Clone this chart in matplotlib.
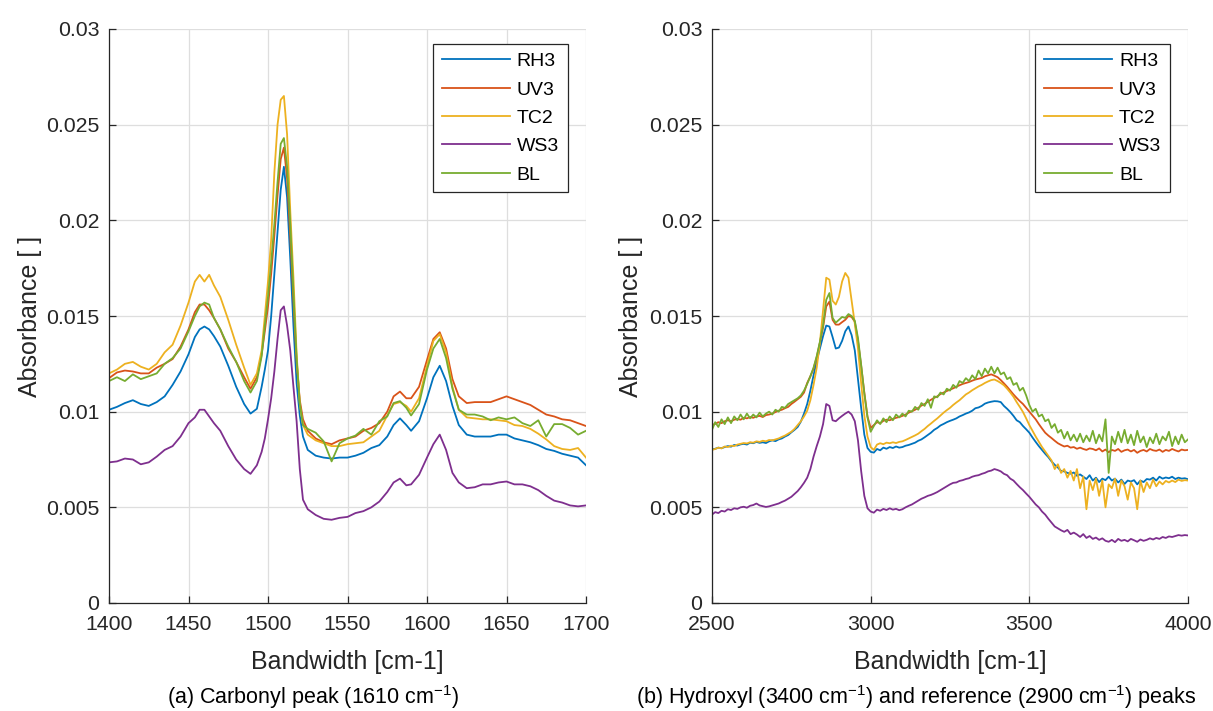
import numpy as np
import matplotlib
matplotlib.use("Agg")
import matplotlib.pyplot as plt

# =========================
# DATOS (a) - pico carbonilo, absorbancia x 1e-4
# =========================
wn_a = [1400, 1405, 1410, 1415, 1420, 1425, 1430, 1435, 1440, 1445, 1450, 1454, 1457, 1460,
        1463, 1466, 1470, 1475, 1480, 1485, 1489, 1493, 1496,
        1498, 1500, 1502, 1504, 1506, 1508, 1510, 1512, 1514, 1516, 1518, 1520, 1522,
        1525, 1530, 1535, 1540, 1545, 1550, 1555, 1560, 1565, 1570, 1575, 1579, 1583, 1587,
        1590, 1595, 1600, 1604, 1608, 1612, 1616, 1620, 1625, 1630, 1635, 1640, 1645, 1650,
        1655, 1660, 1665, 1670, 1675, 1680, 1685, 1690, 1695, 1700]

rh3_a = [101, 102.5, 104.5, 106, 104, 103, 105, 108, 114, 121, 130, 139, 143, 144.5,
         143, 139.5, 134, 124, 113, 104, 99, 101.5, 113,
         122, 132, 150, 172, 194, 216, 228, 212, 180, 145, 115, 98, 87,
         80, 77, 76, 75.5, 76, 76, 77, 78.5, 81, 82.5, 87, 93, 96.5, 93,
         90, 95, 107, 118, 124, 116, 103, 93, 88, 87, 87, 87, 88, 88,
         86, 85, 84, 82.5, 80.5, 79.5, 78, 77, 76, 72]

uv3_a = [117.5, 120.5, 121.5, 121, 120, 120, 123, 125, 127.5, 134, 143, 152, 156, 156,
         153, 149, 143, 133, 126, 118, 112, 118, 130,
         142, 155, 172, 192, 213, 232, 238, 222, 192, 158, 126, 106, 96,
         90, 86, 84, 83, 85, 86, 87, 90, 91.5, 94, 100, 108, 110.5, 107,
         107, 113, 127, 138, 141.5, 133, 117, 108, 104.5, 105, 105, 105, 106.5, 108,
         106.5, 105, 103.5, 101, 98.5, 97.5, 96, 95.5, 94, 92.5]

tc2_a = [120, 122, 125, 126, 123.5, 122, 125, 131, 135, 145, 157, 168, 171.5, 168,
         171.5, 166, 160, 148, 135, 123, 114, 120, 132,
         150, 168, 190, 225, 250, 263, 265, 245, 205, 170, 130, 104, 93,
         88, 85, 83.5, 82, 82, 83, 83.5, 84, 87, 90, 98, 104, 105, 103,
         100, 107, 124, 137, 140.5, 131, 113, 101, 97, 96.5, 96, 96, 95.5, 95,
         93, 92.5, 91, 88.5, 85.5, 82, 80.5, 80, 81, 76]

ws3_a = [73.5, 74, 75.5, 75, 72.5, 73.5, 76.5, 80, 82, 87, 94, 97, 101, 101,
         97.5, 94, 90, 82, 75, 70, 67.5, 72, 79,
         86, 96, 107, 121, 138, 153, 155, 145, 132, 113, 95, 70, 54,
         49, 46, 44, 43.5, 44.5, 45, 47, 48, 50, 53, 58, 63, 65, 61.5,
         62, 67, 76, 83, 88, 80, 68, 63, 60, 60.5, 62, 62, 63, 63.5,
         62, 62, 61, 59, 56, 53.5, 52.5, 51, 50.5, 51]

bl_a = [116, 118, 116, 119.5, 117, 118.5, 120, 125, 128, 133, 142, 150, 155, 157,
        156, 149, 143, 134, 126, 116, 110, 116, 129,
        145, 160, 178, 198, 220, 240, 243, 228, 198, 162, 128, 104, 93,
        91, 89, 84.5, 74, 83.5, 86, 87.5, 91, 88, 95, 97.5, 104.5, 105.5, 102,
        98, 104, 122, 133, 138, 128, 112, 101, 98.5, 98.5, 97.5, 95.5, 97, 96,
        97, 94, 92.5, 95.5, 87, 93.5, 93.5, 91.5, 88, 90]

# =========================
# DATOS (b) - hidroxilo, cada 10 cm-1 de 2500 a 4000, absorbancia x 1e-5
# =========================
wn_b = np.arange(2500, 4001, 10)

rh3_b = [803, 806, 812, 809, 815, 820, 817, 826, 823, 829,
         832, 828, 838, 835, 842, 837, 840, 836, 845, 850,
         846, 855, 860, 870, 878, 892, 905, 920, 948, 990,
         1040, 1110, 1190, 1265, 1330, 1395, 1450, 1445, 1390, 1330,
         1335, 1370, 1420, 1445, 1400, 1320, 1170, 1020, 880, 810,
         790, 786, 805, 798, 812, 806, 815, 810, 818, 812,
         815, 822, 826, 832, 838, 848, 855, 866, 878, 890,
         905, 915, 928, 936, 945, 952, 958, 965, 975, 982,
         990, 996, 1005, 1018, 1022, 1030, 1042, 1048, 1052, 1055,
         1054, 1050, 1030, 1015, 998, 978, 955, 945, 925, 908,
         890, 865, 842, 820, 800, 780, 762, 740, 722, 708,
         690, 688, 680, 676, 682, 665, 672, 660, 648, 668,
         640, 655, 632, 650, 642, 660, 640, 650, 630, 645,
         622, 640, 635, 642, 620, 640, 632, 648, 645, 655,
         640, 660, 650, 656, 652, 660, 648, 655, 650, 652,
         647]

uv3_b = [930, 936, 945, 940, 950, 955, 950, 958, 962, 958,
         968, 965, 972, 968, 975, 978, 972, 982, 985, 990,
         998, 1005, 1010, 1018, 1025, 1040, 1052, 1065, 1078, 1100,
         1150, 1185, 1225, 1285, 1360, 1440, 1550, 1575, 1480, 1455,
         1455, 1468, 1480, 1500, 1495, 1470, 1370, 1240, 1100, 975,
         915, 930, 945, 940, 952, 958, 955, 962, 968, 972,
         978, 985, 995, 1002, 1010, 1020, 1032, 1040, 1052, 1062,
         1072, 1080, 1092, 1100, 1108, 1115, 1122, 1130, 1138, 1145,
         1150, 1155, 1162, 1168, 1172, 1176, 1185, 1190, 1195, 1188,
         1180, 1165, 1148, 1130, 1110, 1090, 1072, 1055, 1040, 1020,
         1000, 980, 960, 935, 912, 890, 875, 862, 848, 835,
         826, 818, 822, 812, 815, 806, 812, 805, 800, 808,
         805, 798, 808, 792, 802, 788, 800, 795, 805, 790,
         798, 802, 792, 800, 785, 795, 800, 792, 805, 798,
         795, 802, 790, 800, 795, 805, 798, 792, 802, 798,
         800]

tc2_b = [800, 805, 812, 808, 818, 815, 822, 820, 828, 832,
         836, 834, 840, 838, 845, 842, 848, 845, 852, 850,
         855, 860, 868, 875, 885, 895, 910, 930, 950, 975,
         1005, 1060, 1140, 1230, 1360, 1530, 1700, 1690, 1580, 1560,
         1600, 1680, 1725, 1700, 1580, 1460, 1330, 1150, 980, 870,
         815, 800, 828, 835, 830, 838, 835, 840, 836, 842,
         845, 852, 860, 868, 876, 885, 898, 910, 925, 938,
         952, 965, 980, 995, 1008, 1020, 1035, 1048, 1060, 1075,
         1090, 1100, 1112, 1122, 1132, 1140, 1150, 1158, 1165, 1168,
         1160, 1150, 1138, 1120, 1100, 1078, 1050, 1025, 998, 965,
         930, 900, 870, 842, 815, 792, 768, 745, 700, 725,
         680, 700, 655, 690, 640, 700, 600, 660, 490, 640,
         590, 650, 560, 640, 500, 620, 600, 650, 560, 640,
         610, 540, 630, 600, 490, 640, 580, 630, 600, 645,
         610, 635, 620, 638, 630, 640, 632, 645, 638, 642,
         640]

ws3_b = [462, 475, 470, 482, 478, 490, 486, 495, 492, 500,
         503, 498, 508, 512, 520, 510, 506, 502, 505, 510,
         515, 520, 528, 535, 545, 555, 570, 585, 605, 628,
         655, 700, 765, 820, 870, 935, 1040, 1030, 955, 950,
         965, 978, 990, 1000, 985, 950, 850, 690, 560, 495,
         478, 472, 488, 482, 492, 486, 495, 488, 492, 485,
         490, 500, 508, 515, 525, 535, 545, 552, 560, 565,
         572, 580, 590, 600, 610, 620, 628, 630, 638, 642,
         648, 652, 660, 665, 668, 675, 680, 688, 692, 700,
         695, 688, 675, 668, 650, 640, 622, 605, 590, 572,
         555, 535, 515, 500, 478, 462, 440, 420, 400, 390,
         380, 372, 382, 360, 368, 358, 345, 360, 340, 350,
         335, 342, 330, 338, 325, 320, 330, 318, 335, 325,
         330, 322, 335, 328, 320, 332, 325, 330, 338, 332,
         340, 335, 345, 340, 348, 345, 350, 355, 352, 355,
         353]

bl_b = [905, 945, 920, 960, 935, 970, 940, 975, 955, 985,
        960, 990, 965, 985, 970, 995, 975, 990, 1000, 985,
        1010, 1000, 1025, 1020, 1040, 1050, 1060, 1070, 1085, 1110,
        1145, 1185, 1230, 1290, 1365, 1450, 1585, 1620, 1490, 1465,
        1480, 1495, 1490, 1510, 1500, 1475, 1385, 1245, 1095, 970,
        895, 925, 955, 935, 965, 945, 975, 955, 985, 970,
        990, 975, 1005, 1000, 1025, 1010, 1045, 1030, 1065, 1020,
        1080, 1075, 1100, 1090, 1120, 1110, 1140, 1125, 1160, 1150,
        1175, 1160, 1190, 1170, 1215, 1185, 1225, 1200, 1235, 1200,
        1230, 1195, 1205, 1170, 1180, 1140, 1150, 1110, 1125, 1085,
        1035, 1000, 1015, 975, 985, 950, 960, 915, 935, 890,
        905, 860, 895, 850, 880, 845, 885, 840, 875, 845,
        900, 835, 880, 845, 960, 680, 870, 830, 895, 840,
        905, 835, 880, 825, 900, 840, 870, 815, 865, 835,
        885, 830, 870, 850, 895, 820, 870, 830, 880, 840,
        855]

nombres = ["RH3", "UV3", "TC2", "WS3", "BL"]
colores = ["#0072BD", "#D95319", "#EDB120", "#7E2F8E", "#77AC30"]

series_a = [np.array(s) * 1e-4 for s in (rh3_a, uv3_a, tc2_a, ws3_a, bl_a)]
series_b = [np.array(s) * 1e-5 for s in (rh3_b, uv3_b, tc2_b, ws3_b, bl_b)]

yticks = [0, 0.005, 0.01, 0.015, 0.02, 0.025, 0.03]
yticklabels = ["0", "0.005", "0.01", "0.015", "0.02", "0.025", "0.03"]

# =========================
# ESTILO
# =========================
plt.rcParams["font.family"] = ["Liberation Sans", "DejaVu Sans"]
plt.rcParams["mathtext.fontset"] = "custom"
plt.rcParams["mathtext.rm"] = "Liberation Sans"
plt.rcParams["mathtext.it"] = "Liberation Sans:italic"

gris = "#262626"

fig = plt.figure(figsize=(12.13, 7.11), dpi=100)
ax1 = fig.add_axes([109 / 1213, 108 / 711, 477 / 1213, 574 / 711])
ax2 = fig.add_axes([712 / 1213, 108 / 711, 476 / 1213, 574 / 711])


def estilo(ax, wn, series, xlim, xticks, ylab_x):
    for s, nom, col in zip(series, nombres, colores):
        ax.plot(wn, s, color=col, lw=1.3, label=nom)
    ax.set_xlim(*xlim)
    ax.set_ylim(0, 0.03)
    ax.set_xticks(xticks)
    ax.set_yticks(yticks)
    ax.set_yticklabels(yticklabels)
    ax.grid(True, color="#dedede", lw=0.9)
    ax.set_axisbelow(True)
    for lado in ("top", "right"):
        ax.spines[lado].set_visible(False)
    for lado in ("left", "bottom"):
        ax.spines[lado].set_color(gris)
        ax.spines[lado].set_linewidth(0.9)
    ax.tick_params(direction="in", length=5, width=0.9, color=gris,
                   labelcolor=gris, labelsize=15.3)
    ax.tick_params(axis="x", pad=9)
    ax.tick_params(axis="y", pad=7)
    ax.set_xlabel("Bandwidth [cm-1]", fontsize=18, color=gris)
    ax.set_ylabel("Absorbance [ ]", fontsize=18, color=gris)
    ax.xaxis.set_label_coords(0.5, -0.082)
    ax.yaxis.set_label_coords(ylab_x, 0.5)
    leg = ax.legend(loc="upper right", bbox_to_anchor=(0.962, 0.974),
                    borderaxespad=0, fontsize=14, fancybox=False,
                    framealpha=1, edgecolor=gris, handlelength=3.5,
                    handletextpad=0.35, labelspacing=0.55, borderpad=0.45)
    leg.get_frame().set_linewidth(0.9)


estilo(ax1, wn_a, series_a, (1400, 1700), [1400, 1450, 1500, 1550, 1600, 1650, 1700], -0.14)
estilo(ax2, wn_b, series_b, (2500, 4000), [2500, 3000, 3500, 4000], -0.146)

fig.text(313 / 1213, 1 - 697 / 711, r"(a) Carbonyl peak (1610 cm$^{-1}$)",
         ha="center", va="center", fontsize=15.5)
fig.text(916 / 1213, 1 - 697 / 711,
         r"(b) Hydroxyl (3400 cm$^{-1}$) and reference (2900 cm$^{-1}$) peaks",
         ha="center", va="center", fontsize=15.5)

fig.savefig("out.png", dpi=100)
